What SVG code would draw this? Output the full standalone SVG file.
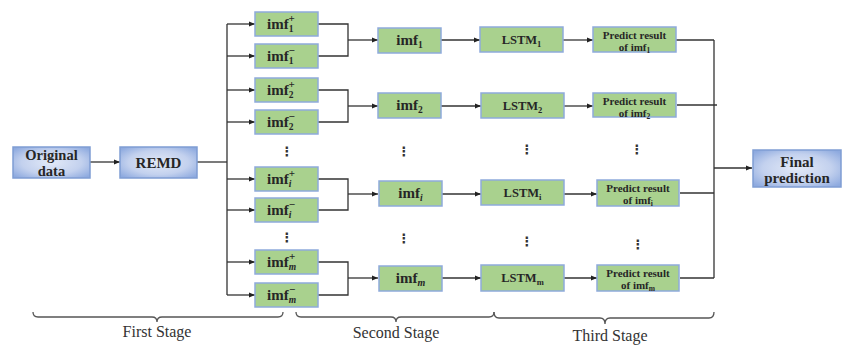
<svg xmlns="http://www.w3.org/2000/svg" width="845" height="345" viewBox="0 0 845 345">
<defs>
<radialGradient id="blueFill" cx="50%" cy="50%" r="65%">
<stop offset="0" stop-color="#e2e9f7"/>
<stop offset="0.6" stop-color="#c3d1ee"/>
<stop offset="1" stop-color="#8eaadf"/>
</radialGradient>
<marker id="arr" markerWidth="7" markerHeight="6" refX="6" refY="3" orient="auto" markerUnits="userSpaceOnUse">
<path d="M0,0.5 L6,3 L0,5.5 z" fill="#222"/>
</marker>
<style>
.g{fill:#a9d18e;stroke:#8eaadb;stroke-width:1.5}
.b{fill:url(#blueFill);stroke:#7f9dd3;stroke-width:1.5}
.t{font-family:"Liberation Serif","Times New Roman",serif;font-weight:bold;fill:#262626}
.c{text-anchor:middle}
.ln{fill:none;stroke:#333;stroke-width:1.3}
.ar{fill:none;stroke:#333;stroke-width:1.3;marker-end:url(#arr)}
.br{fill:none;stroke:#555;stroke-width:1.3}
.st{font-family:"Liberation Serif","Times New Roman",serif;font-size:16px;fill:#333;text-anchor:middle}
.dots{font-family:"DejaVu Sans",sans-serif;font-weight:bold;font-size:13px;fill:#333;text-anchor:middle}
.it{font-style:italic}
</style>
</defs>
<rect width="845" height="345" fill="#fff"/>

<g id="connectors">
<line class="ar" x1="90" y1="162" x2="120" y2="162"/>
<line class="ln" x1="197" y1="162" x2="227" y2="162"/>
<line class="ln" x1="227" y1="24" x2="227" y2="295"/>
<line class="ar" x1="227" y1="24" x2="255" y2="24"/>
<line class="ar" x1="227" y1="56" x2="255" y2="56"/>
<line class="ar" x1="227" y1="90" x2="255" y2="90"/>
<line class="ar" x1="227" y1="122" x2="255" y2="122"/>
<line class="ar" x1="227" y1="179" x2="255" y2="179"/>
<line class="ar" x1="227" y1="210" x2="255" y2="210"/>
<line class="ar" x1="227" y1="262" x2="255" y2="262"/>
<line class="ar" x1="227" y1="295" x2="255" y2="295"/>
<path class="ln" d="M318,24 H348 V56 H318"/>
<path class="ln" d="M318,90 H348 V122 H318"/>
<path class="ln" d="M318,179 H348 V210 H318"/>
<path class="ln" d="M318,262 H348 V295 H318"/>
<line class="ar" x1="348" y1="40" x2="378" y2="40"/>
<line class="ar" x1="348" y1="106" x2="378" y2="106"/>
<line class="ar" x1="348" y1="194" x2="378" y2="194"/>
<line class="ar" x1="348" y1="278" x2="378" y2="278"/>
<line class="ar" x1="441" y1="40" x2="480" y2="40"/>
<line class="ar" x1="441" y1="106" x2="481" y2="106"/>
<line class="ar" x1="442" y1="194" x2="481" y2="194"/>
<line class="ar" x1="442" y1="278" x2="481" y2="278"/>
<line class="ar" x1="563" y1="40" x2="593" y2="40"/>
<line class="ar" x1="564" y1="106" x2="593" y2="106"/>
<line class="ar" x1="564" y1="194" x2="597" y2="194"/>
<line class="ar" x1="564" y1="278" x2="597" y2="278"/>
<line class="ln" x1="676" y1="40" x2="714" y2="40"/>
<line class="ln" x1="677" y1="105" x2="717" y2="105"/>
<line class="ln" x1="680" y1="193" x2="714" y2="193"/>
<line class="ln" x1="680" y1="278" x2="714" y2="278"/>
<line class="ln" x1="714" y1="40" x2="714" y2="278"/>
<line class="ar" x1="714" y1="168" x2="752" y2="168"/>
</g>

<g id="original-data">
<rect class="b" x="13" y="147" width="77" height="31"/>
<text class="t c" x="51.5" y="159.5" font-size="14.5">Original</text>
<text class="t c" x="51.5" y="175.5" font-size="14.5">data</text>
</g>

<g id="remd">
<rect class="b" x="120" y="147" width="77" height="31"/>
<text class="t c" x="158.5" y="167.5" font-size="15">REMD</text>
</g>

<g id="imf1-plus">
<rect class="g" x="255" y="12" width="63" height="24"/>
<text class="t" x="267" y="29" font-size="15">imf<tspan font-size="9.5" dy="3">1</tspan><tspan font-size="11" dx="-4.8" dy="-10">+</tspan></text>
</g>
<g id="imf1-minus">
<rect class="g" x="255" y="44" width="63" height="24"/>
<text class="t" x="267" y="61" font-size="15">imf<tspan font-size="9.5" dy="3">1</tspan><tspan font-size="11" dx="-4.8" dy="-10">−</tspan></text>
</g>
<g id="imf2-plus">
<rect class="g" x="255" y="78" width="63" height="24"/>
<text class="t" x="267" y="95" font-size="15">imf<tspan font-size="9.5" dy="3">2</tspan><tspan font-size="11" dx="-4.8" dy="-10">+</tspan></text>
</g>
<g id="imf2-minus">
<rect class="g" x="255" y="110" width="63" height="24"/>
<text class="t" x="267" y="127" font-size="15">imf<tspan font-size="9.5" dy="3">2</tspan><tspan font-size="11" dx="-4.8" dy="-10">−</tspan></text>
</g>
<g id="imfi-plus">
<rect class="g" x="255" y="167" width="63" height="24"/>
<text class="t" x="267" y="184" font-size="15">imf<tspan class="it" font-size="9.5" dy="3">i</tspan><tspan font-size="11" dx="-2.6" dy="-10">+</tspan></text>
</g>
<g id="imfi-minus">
<rect class="g" x="255" y="198" width="63" height="24"/>
<text class="t" x="267" y="215" font-size="15">imf<tspan class="it" font-size="9.5" dy="3">i</tspan><tspan font-size="11" dx="-2.6" dy="-10">−</tspan></text>
</g>
<g id="imfm-plus">
<rect class="g" x="255" y="250" width="63" height="24"/>
<text class="t" x="267" y="267" font-size="15">imf<tspan class="it" font-size="9.5" dy="3">m</tspan><tspan font-size="11" dx="-7" dy="-10">+</tspan></text>
</g>
<g id="imfm-minus">
<rect class="g" x="255" y="283" width="63" height="24"/>
<text class="t" x="267" y="300" font-size="15">imf<tspan class="it" font-size="9.5" dy="3">m</tspan><tspan font-size="11" dx="-7" dy="-10">−</tspan></text>
</g>

<g id="imf1">
<rect class="g" x="378" y="28" width="63" height="25"/>
<text class="t c" x="409.5" y="45" font-size="15">imf<tspan font-size="9.5" dy="3">1</tspan></text>
</g>
<g id="imf2">
<rect class="g" x="378" y="93" width="63" height="25"/>
<text class="t c" x="409.5" y="110" font-size="15">imf<tspan font-size="9.5" dy="3">2</tspan></text>
</g>
<g id="imfi">
<rect class="g" x="379" y="181" width="63" height="25"/>
<text class="t c" x="410.5" y="198" font-size="15">imf<tspan class="it" font-size="9.5" dy="3">i</tspan></text>
</g>
<g id="imfm">
<rect class="g" x="379" y="266" width="63" height="25"/>
<text class="t c" x="410.5" y="283" font-size="15">imf<tspan class="it" font-size="10" dy="3">m</tspan></text>
</g>

<g id="lstm1">
<rect class="g" x="480" y="27" width="83" height="25"/>
<text class="t c" x="521.5" y="44" font-size="12.5">LSTM<tspan font-size="8.5" dy="2.5">1</tspan></text>
</g>
<g id="lstm2">
<rect class="g" x="481" y="93" width="83" height="25"/>
<text class="t c" x="522.5" y="110" font-size="12.5">LSTM<tspan font-size="8.5" dy="2.5">2</tspan></text>
</g>
<g id="lstmi">
<rect class="g" x="481" y="180" width="83" height="25"/>
<text class="t c" x="522.5" y="197" font-size="12.5">LSTM<tspan font-size="8.5" dy="2.5">i</tspan></text>
</g>
<g id="lstmm">
<rect class="g" x="481" y="265" width="83" height="26"/>
<text class="t c" x="522.5" y="282" font-size="12.5">LSTM<tspan font-size="8.5" dy="2.5">m</tspan></text>
</g>

<g id="predict1">
<rect class="g" x="593" y="27" width="83" height="25"/>
<text class="t c" x="634.5" y="38.5" font-size="11">Predict result</text>
<text class="t c" x="634.5" y="50.5" font-size="11">of imf<tspan font-size="7.5" dy="2">1</tspan></text>
</g>
<g id="predict2">
<rect class="g" x="593" y="93" width="83" height="24"/>
<text class="t c" x="634.5" y="104.5" font-size="11">Predict result</text>
<text class="t c" x="634.5" y="116.5" font-size="11">of imf<tspan font-size="7.5" dy="2">2</tspan></text>
</g>
<g id="predicti">
<rect class="g" x="597" y="180" width="82" height="26"/>
<text class="t c" x="638" y="191.5" font-size="11">Predict result</text>
<text class="t c" x="638" y="203.5" font-size="11">of imf<tspan font-size="7.5" dy="2">i</tspan></text>
</g>
<g id="predictm">
<rect class="g" x="597" y="265" width="82" height="26"/>
<text class="t c" x="638" y="276.5" font-size="11">Predict result</text>
<text class="t c" x="638" y="288.5" font-size="11">of imf<tspan font-size="7.5" dy="2">m</tspan></text>
</g>

<g id="final-prediction">
<rect class="b" x="753" y="150" width="88" height="37"/>
<text class="t c" x="797" y="167" font-size="15">Final</text>
<text class="t c" x="797" y="183" font-size="15">prediction</text>
</g>

<g id="ellipses">
<text class="dots" x="287" y="156">⋮</text>
<text class="dots" x="287" y="242">⋮</text>
<text class="dots" x="404" y="156">⋮</text>
<text class="dots" x="404" y="243">⋮</text>
<text class="dots" x="527" y="154">⋮</text>
<text class="dots" x="527" y="246">⋮</text>
<text class="dots" x="637" y="154">⋮</text>
<text class="dots" x="638" y="249">⋮</text>
</g>

<g id="stages">
<path class="br" d="M33,312 Q33,317 38,317 L152,317 Q157,317 157,322 Q157,317 162,317 L278,317 Q283,317 283,312"/>
<path class="br" d="M296,312 Q296,317 301,317 L391,317 Q396,317 396,322 Q396,317 401,317 L489,317 Q494,317 494,312"/>
<path class="br" d="M494,312 Q494,318 499,318 L600,318 Q605,318 605,324 Q605,318 610,318 L709,318 Q714,318 714,312"/>
<text class="st" x="157" y="337">First Stage</text>
<text class="st" x="396" y="338">Second Stage</text>
<text class="st" x="610" y="341">Third Stage</text>
</g>
</svg>
